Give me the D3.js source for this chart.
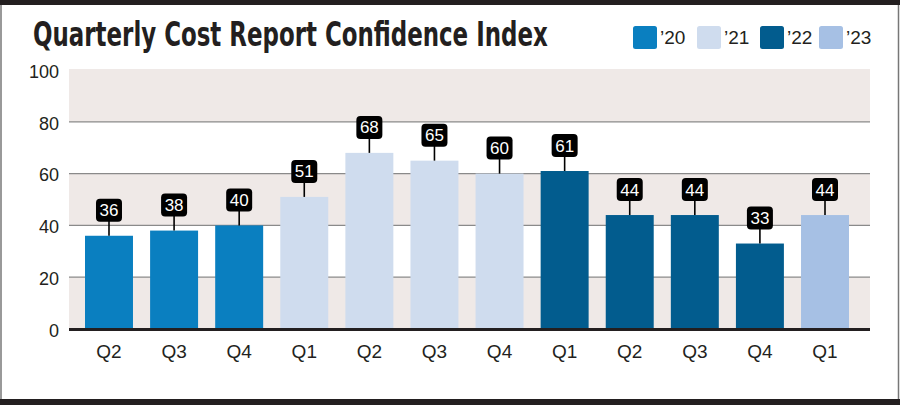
<!DOCTYPE html>
<html><head><meta charset="utf-8">
<script src="https://cdn.jsdelivr.net/npm/d3@7"></script>
<style>
html,body{margin:0;padding:0;background:#fff;}
svg{display:block;}
</style></head>
<body>
<svg id="chart" width="900" height="405"></svg>
<script>
const quarters = ["Q2","Q3","Q4","Q1","Q2","Q3","Q4","Q1","Q2","Q3","Q4","Q1"];
const years = ["’20","’20","’20","’21","’21","’21","’21","’22","’22","’22","’22","’23"];
const values = [36,38,40,51,68,65,60,61,44,44,33,44];
const legendYears = ["’20","’21","’22","’23"];
const yearColors = ["#0a7fc0","#cfdcee","#025c8e","#a6c0e4"];
const yTicks = [0,20,40,60,80,100];
const title = "Quarterly Cost Report Confidence Index";

const svg = d3.select("#chart");
const W = 900, H = 405;
const plotL = 69, plotR = 870;
const color = d3.scaleOrdinal().domain(legendYears).range(yearColors);
const y = d3.scaleLinear().domain([0,100]).range([329,70]);
const idx = d3.range(values.length);
const x = d3.scaleBand().domain(idx).range([76.45,857.55]).paddingInner(0.263).paddingOuter(0.1315);
const FONT = "'Liberation Sans',Arial,Helvetica,sans-serif";

// frame
svg.append("rect").attr("x",0).attr("y",0).attr("width",W).attr("height",H).attr("fill","#fff");
svg.append("line").attr("x1",1).attr("x2",1).attr("y1",0).attr("y2",H).attr("stroke","#777").attr("stroke-width",1.5);
svg.append("line").attr("x1",898.5).attr("x2",898.5).attr("y1",0).attr("y2",H).attr("stroke","#777").attr("stroke-width",1.5);
svg.append("rect").attr("x",0).attr("y",0).attr("width",W).attr("height",5).attr("fill","#231f20");
svg.append("rect").attr("x",0).attr("y",399).attr("width",W).attr("height",6).attr("fill","#231f20");

// title (scaled horizontally to fit the reference width)
const tg = svg.append("g");
const tt = tg.append("text").attr("x",0).attr("y",0)
  .attr("font-family","'DejaVu Sans Condensed','Liberation Sans Narrow',sans-serif")
  .attr("font-weight","bold").attr("font-size",34).attr("fill","#231f20")
  .text(title);
const tw = tt.node().getComputedTextLength();
tg.attr("transform",`translate(33,46) scale(${515/tw},1)`);

// legend
const legX = [633,697,760,819];
const lg = svg.append("g").selectAll("g").data(legendYears).join("g")
  .attr("transform",(d,i)=>`translate(${legX[i]},26)`);
lg.append("rect").attr("width",24).attr("height",23).attr("rx",2.5).attr("fill",d=>color(d));
lg.append("text").attr("x",27).attr("y",18).attr("font-family",FONT)
  .attr("font-size",19).attr("fill","#231f20").text(d=>d);

// alternating bands
const bands = d3.pairs(yTicks).filter((p,i)=>i%2===0);
svg.append("g").selectAll("rect").data(bands).join("rect")
  .attr("x",plotL).attr("width",plotR-plotL)
  .attr("y",d=>y(d[1])-(d[1]===100?1:0)).attr("height",d=>y(d[0])-y(d[1])+(d[1]===100?1:0))
  .attr("fill","#efe9e7");

// gridlines
svg.append("g").selectAll("line").data(yTicks.filter(t=>t>0&&t<100)).join("line")
  .attr("x1",plotL).attr("x2",plotR).attr("y1",d=>y(d)).attr("y2",d=>y(d))
  .attr("stroke","#8a8a8a").attr("stroke-width",1.2);

// y axis labels
const yAxis = d3.axisLeft(y).tickValues(yTicks).tickSize(0).tickPadding(0);
const ya = svg.append("g").attr("transform","translate(59,0)").call(yAxis);
ya.select(".domain").remove();
ya.selectAll("text").attr("font-family",FONT).attr("font-size",18)
  .attr("fill","#231f20").attr("dy","0.4em");

// bars
svg.append("g").selectAll("rect").data(idx).join("rect")
  .attr("x",i=>x(i)).attr("width",x.bandwidth())
  .attr("y",i=>y(values[i])).attr("height",i=>y(0)-y(values[i]))
  .attr("fill",i=>color(years[i]));

// baseline
svg.append("line").attr("x1",plotL).attr("x2",plotR).attr("y1",y(0)+0.5).attr("y2",y(0)+0.5)
  .attr("stroke","#231f20").attr("stroke-width",3);

// x labels
const xAxis = d3.axisBottom(x).tickFormat(i=>quarters[i]).tickSize(0).tickPadding(0);
const xa = svg.append("g").attr("transform","translate(0,344)").call(xAxis);
xa.select(".domain").remove();
xa.selectAll("text").attr("font-family",FONT).attr("font-size",19)
  .attr("fill","#231f20").attr("dy","0.75em");

// value labels
const lab = svg.append("g").selectAll("g").data(idx).join("g")
  .attr("transform",i=>`translate(${x(i)+x.bandwidth()/2},${y(values[i])})`);
lab.append("line").attr("x1",0).attr("x2",0).attr("y1",0).attr("y2",-15)
  .attr("stroke","#000").attr("stroke-width",1.6);
lab.append("rect").attr("x",-13).attr("y",-37).attr("width",26).attr("height",23).attr("rx",4).attr("fill","#000");
lab.append("text").attr("x",0).attr("y",-19.5).attr("text-anchor","middle")
  .attr("font-family",FONT).attr("font-size",17).attr("fill","#fff")
  .text(i=>values[i]);
</script>
</body></html>
